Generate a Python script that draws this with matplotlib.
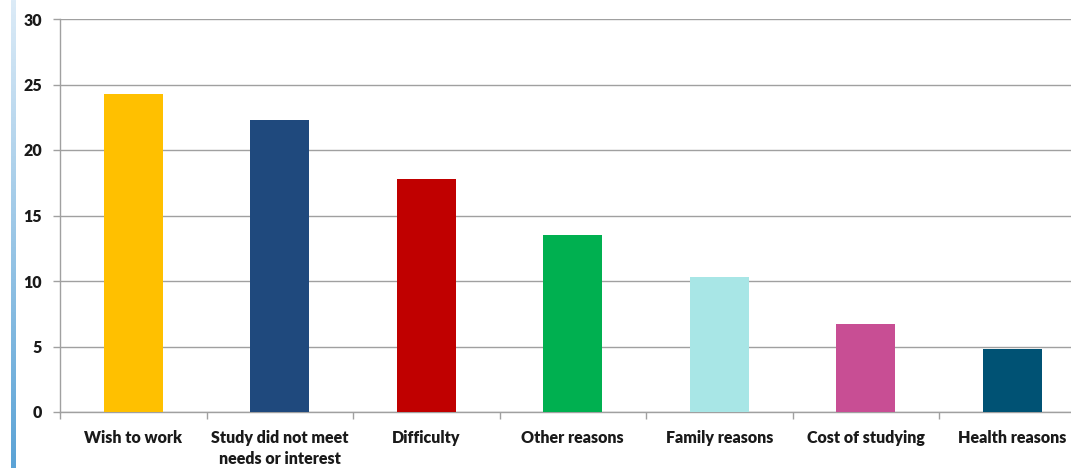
import numpy as np
import matplotlib.pyplot as plt
from matplotlib.colors import LinearSegmentedColormap
from matplotlib.ticker import FixedLocator

plt.rcParams['font.family'] = ['Lato', 'DejaVu Sans']

reasons = ['Wish to work', 'Study did not meet\nneeds or interest', 'Difficulty',
           'Other reasons', 'Family reasons', 'Cost of studying', 'Health reasons']
shares = [24.3, 22.3, 17.8, 13.5, 10.3, 6.7, 4.8]
colors = ['#FFC000', '#1F497D', '#C00000', '#00B050', '#A8E6E6', '#C84E94', '#005274']

fig = plt.figure(figsize=(10.71, 4.68), dpi=100)
ax = fig.add_axes([60 / 1071, 1 - 412 / 468, 1 - 60 / 1071, (412 - 19) / 468])

x = np.arange(len(reasons))
ax.bar(x, shares, width=0.4, color=colors, zorder=3)

ax.set_ylim(0, 30)
ax.set_xlim(-0.5, -0.5 + 1011 / 146.5)
ax.set_yticks(range(0, 31, 5))
ax.yaxis.grid(True, color='#A0A0A0', linewidth=1.0, zorder=0)

# category labels in the middle, tick marks on the boundaries
ax.set_xticks(x)
ax.set_xticklabels(reasons, fontsize=11.5, fontweight='heavy', color='#1A1A1A', linespacing=1.4)
ax.tick_params(axis='x', which='major', length=0, pad=13)
ax.xaxis.set_minor_locator(FixedLocator(np.arange(-0.5, len(reasons), 1.0)))
ax.tick_params(axis='x', which='minor', length=5, color='#A0A0A0', width=1)
ax.tick_params(axis='y', length=5, color='#A0A0A0', width=1, labelsize=11.5, pad=8)
for lbl in ax.get_yticklabels():
    lbl.set_fontweight('heavy')
    lbl.set_color('#1A1A1A')

for side in ['top', 'right']:
    ax.spines[side].set_visible(False)
for side in ['left', 'bottom']:
    ax.spines[side].set_color('#A0A0A0')
    ax.spines[side].set_linewidth(1.0)

# thin blue strip along the left edge
strip = fig.add_axes([11 / 1071, 0, 5 / 1071, 1])
grad = np.linspace(0, 1, 256).reshape(-1, 1)
strip.imshow(grad, aspect='auto', origin='upper',
             cmap=LinearSegmentedColormap.from_list('edge', ['#DCEBF7', '#5BA3D6']))
strip.axis('off')

fig.savefig('out.png', dpi=100)
